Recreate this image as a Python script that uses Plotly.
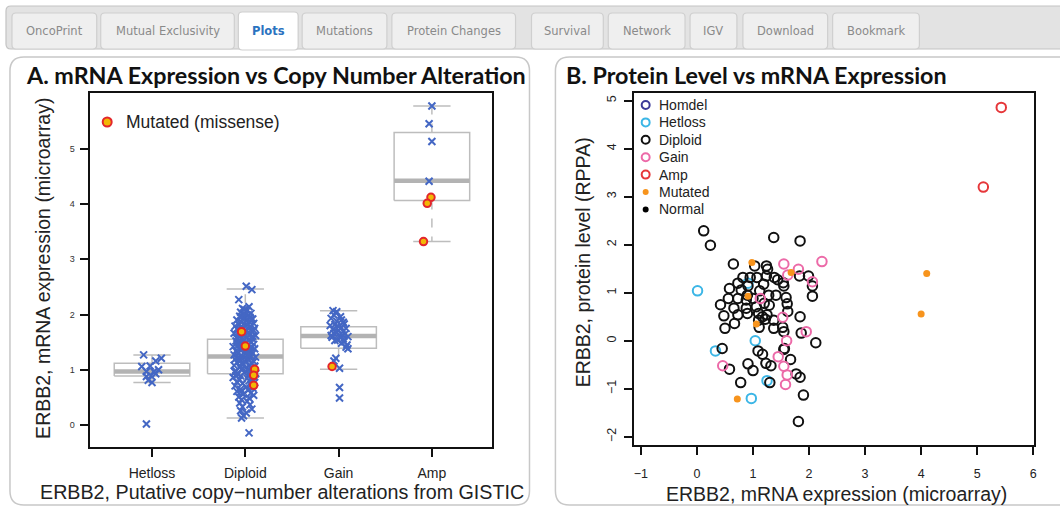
import plotly.graph_objects as go

# ---------------- data: panel A ----------------
categories = ["Hetloss", "Diploid", "Gain", "Amp"]
box_q1 = [0.89, 0.93, 1.39, 4.06]
box_median = [0.97, 1.24, 1.61, 4.42]
box_q3 = [1.12, 1.555, 1.78, 5.29]
box_lower = [0.77, 0.13, 1.01, 3.32]
box_upper = [1.27, 2.46, 2.07, 5.77]

hetloss_y = [1.27, 1.16, 1.21, 1.07, 1.06, 0.97, 0.97, 1.00, 0.89, 0.93, 0.88, 0.77, 0.81, 0.02]
hetloss_dx = [-0.09, 0.04, 0.10, -0.02, -0.11, -0.06, 0.02, 0.07, -0.01, 0.04, -0.06, 0.00, -0.04, -0.06]

diploid_y = [
    2.51, 2.45, 2.27, 2.14, 2.11, 2.07, 2.04, 2.02, 2.09, 1.99,
    1.97, 1.95, 1.94, 1.92, 1.90, 1.89, 1.87, 1.86, 1.84, 1.82,
    1.81, 1.79, 1.78, 1.76, 1.75, 1.73, 1.72, 1.70, 1.69, 1.67,
    1.66, 1.64, 1.63, 1.62, 1.60, 1.59, 1.57, 1.56, 1.55, 1.53,
    1.52, 1.50, 1.49, 1.48, 1.46, 1.45, 1.44, 1.42, 1.41, 1.40,
    1.38, 1.37, 1.36, 1.34, 1.33, 1.32, 1.30, 1.29, 1.28, 1.27,
    1.25, 1.24, 1.23, 1.22, 1.20, 1.19, 1.18, 1.17, 1.15, 1.14,
    1.13, 1.12, 1.10, 1.09, 1.08, 1.06, 1.05, 1.04, 1.02, 1.01,
    0.99, 0.98, 0.97, 0.95, 0.94, 0.92, 0.91, 0.89, 0.88, 0.86,
    0.85, 0.83, 0.82, 0.80, 0.78, 0.77, 0.75, 0.73, 0.71, 0.69,
    0.67, 0.65, 0.63, 0.61, 0.58, 0.56, 0.54, 0.51, 0.49, 0.46,
    0.43, 0.40, 0.37, 0.33, 0.29, 0.26, 0.22, 0.17, 0.13, -0.14,
    1.88, 1.74, 1.61, 1.47, 1.35, 1.21, 1.07, 0.96, 1.83, 1.58,
    1.43, 1.26, 1.11, 1.00, 0.90, 1.71, 1.54, 1.39, 1.16, 0.93,
    2.00, 1.92, 1.65, 1.31, 1.03, 0.79, 0.60, 1.96, 1.77, 1.51,
]
diploid_dx = [
    0.01, 0.07, -0.07, 0.04, -0.03, 0.02, -0.05, 0.06, -0.01, 0.03,
    -0.06, 0.05, -0.02, 0.08, -0.09, 0.01, 0.04, -0.04, 0.09, -0.07,
    0.02, -0.11, 0.06, -0.03, 0.10, -0.08, 0.00, 0.07, -0.05, 0.03,
    -0.12, 0.05, -0.01, 0.11, -0.06, 0.02, -0.09, 0.08, -0.03, 0.04,
    -0.10, 0.06, 0.00, -0.07, 0.09, -0.02, 0.03, -0.13, 0.07, -0.04,
    0.10, -0.06, 0.01, -0.10, 0.05, -0.01, 0.08, -0.08, 0.03, -0.12,
    0.06, -0.03, 0.11, -0.07, 0.02, -0.11, 0.04, -0.05, 0.09, 0.00,
    -0.09, 0.07, -0.02, 0.05, -0.12, 0.10, -0.06, 0.01, 0.08, -0.04,
    0.03, -0.10, 0.06, -0.01, 0.11, -0.08, 0.04, -0.05, 0.09, -0.13,
    0.02, 0.07, -0.06, 0.04, -0.09, 0.10, -0.03, 0.06, -0.11, 0.01,
    0.08, -0.05, 0.03, -0.09, 0.06, -0.02, 0.09, -0.07, 0.04, -0.04,
    0.02, -0.06, 0.05, -0.03, 0.07, -0.05, 0.01, -0.02, -0.04, 0.04,
    0.04, -0.09, 0.08, -0.05, 0.02, -0.07, 0.10, -0.11, -0.02, 0.06,
    -0.08, 0.03, -0.04, 0.07, -0.10, 0.09, -0.01, 0.05, -0.06, 0.11,
    0.00, 0.06, -0.07, 0.02, -0.03, 0.08, -0.05, -0.04, 0.05, -0.08,
]

gain_y = [2.07, 2.03, 2.05, 1.99, 1.96, 1.93, 1.90, 1.88, 1.86, 1.83,
          1.82, 1.80, 1.78, 1.76, 1.75, 1.73, 1.71, 1.70, 1.68, 1.66,
          1.65, 1.63, 1.62, 1.60, 1.59, 1.58, 1.56, 1.54, 1.53, 1.51,
          1.48, 1.45, 1.41, 1.38, 1.21, 1.16, 1.03, 0.68, 0.49]
gain_dx = [-0.06, -0.03, -0.02, -0.05, 0.02, -0.08, 0.03, -0.02, 0.05, 0.06,
           -0.04, -0.09, 0.00, 0.03, 0.08, -0.06, 0.00, 0.05, -0.02, -0.05,
           0.07, 0.04, -0.08, 0.10, -0.07, 0.02, 0.05, -0.01, -0.04, 0.06,
           0.03, 0.09, 0.08, 0.10, -0.03, -0.05, 0.01, 0.01, 0.01]

amp_y = [5.77, 5.45, 5.13, 4.41]
amp_dx = [0.00, -0.03, 0.00, -0.03]

mutated_cat = [2, 2, 2, 2, 2, 3, 4, 4, 4]
mutated_dx = [-0.04, 0.00, 0.10, 0.09, 0.09, -0.07, -0.01, -0.05, -0.09]
mutated_y = [1.69, 1.43, 1.01, 0.90, 0.72, 1.06, 4.12, 4.01, 3.32]

# ---------------- data: panel B ----------------
hetloss_bx = [0.01, 0.91, 1.04, 0.33, 1.25, 0.97]
hetloss_by = [1.04, 1.20, 0.00, -0.21, -0.83, -1.20]
diploid_bx = [0.12, 0.24, 1.37, 1.84, 0.65, 1.03, 1.24, 1.26, 0.82, 0.95, 1.07, 1.24, 1.38, 1.44,
              1.54, 1.55, 1.83, 1.99, 2.06, 2.06, 0.73, 0.58, 0.56, 0.73, 0.88, 1.00, 1.12, 1.28,
              1.41, 1.59, 1.61, 1.62, 0.42, 0.48, 0.50, 0.66, 0.67, 0.73, 0.88, 0.90, 1.06, 1.10,
              1.17, 1.25, 1.22, 1.37, 1.37, 1.11, 1.53, 1.55, 1.84, 1.86, 2.12, 0.45, 1.09, 1.17,
              1.56, 1.67, 0.91, 1.00, 1.23, 1.32, 0.58, 0.78, 1.30, 1.77, 1.84, 1.90, 1.81, 0.90,
              0.79, 1.20, 1.29, 1.10, 0.91, 1.19, 1.55]
diploid_by = [2.29, 1.99, 2.15, 2.08, 1.60, 1.56, 1.56, 1.49, 1.32, 1.32, 1.32, 1.35, 1.32, 1.27,
              1.21, 1.14, 1.35, 1.35, 1.14, 0.93, 1.20, 1.09, 0.88, 0.88, 0.85, 0.88, 1.04, 0.95,
              0.95, 0.90, 0.77, 0.61, 0.75, 0.52, 0.26, 0.68, 0.36, 0.54, 0.68, 0.57, 0.71, 0.57,
              0.50, 0.54, 0.45, 0.43, 0.26, 0.28, 0.28, 0.19, 0.50, 0.16, -0.04, -0.16, -0.21, -0.28,
              -0.16, -0.39, -0.48, -0.62, -0.47, -0.52, -0.59, -0.87, -0.87, -0.69, -0.76, -1.13, -1.68, 0.95,
              1.06, 0.78, 0.74, 0.43, 1.14, 1.18, -0.18]
gain_bx = [1.55, 1.81, 2.23, 1.62, 2.06, 1.13, 1.53, 1.95, 1.60, 1.45, 1.55, 1.61, 1.58, 0.46]
gain_by = [1.60, 1.49, 1.65, 1.37, 1.23, 0.88, 0.49, 0.19, 0.00, -0.33, -0.53, -0.71, -0.91, -0.52]
amp_bx = [5.43, 5.11]
amp_by = [4.86, 3.20]
mutated_bx = [0.98, 1.68, 0.91, 1.06, 0.72, 4.10, 4.00]
mutated_by = [1.63, 1.42, 0.93, 0.35, -1.21, 1.40, 0.56]

legend_b_labels = ["Homdel", "Hetloss", "Diploid", "Gain", "Amp", "Mutated", "Normal"]

tab_labels = ["OncoPrint", "Mutual Exclusivity", "Plots", "Mutations", "Protein Changes",
              "Survival", "Network", "IGV", "Download", "Bookmark"]

# ---------------- styles ----------------
W, H = 1060, 508
BLUE_X = "#4467c4"
MUT_FILL = "#f2b705"
MUT_LINE = "#e3262b"
BOX_GRAY = "#bdbdbd"
C_HOMDEL = "#3b3a98"
C_HETLOSS = "#3cb6e6"
C_DIPLOID = "#111111"
C_GAIN = "#ec6aa8"
C_AMP = "#e6373a"
C_MUT = "#f7941d"
C_NORMAL = "#000000"
SANS = "Liberation Sans, Arial, sans-serif"
TITLE_FONT = "Lato, Open Sans, sans-serif"


def fx(x):
    return x / W


def fy(y):
    return 1 - y / H


def P(x, y):
    return f"{fx(x):.5f},{fy(y):.5f}"


def rounded_rect(x0, y0, x1, y1, r):
    return (f"M {P(x0 + r, y0)} L {P(x1 - r, y0)} Q {P(x1, y0)} {P(x1, y0 + r)} "
            f"L {P(x1, y1 - r)} Q {P(x1, y1)} {P(x1 - r, y1)} L {P(x0 + r, y1)} "
            f"Q {P(x0, y1)} {P(x0, y1 - r)} L {P(x0, y0 + r)} Q {P(x0, y0)} {P(x0 + r, y0)} Z")


fig = go.Figure()

# ---------------- panel A: boxes ----------------
BW = 0.405
CW = 0.2
bx, by, mx, my, wx, wy, cx, cy = [], [], [], [], [], [], [], []
for i in range(len(categories)):
    c = i + 1
    bx += [c - BW, c + BW, c + BW, c - BW, c - BW, None]
    by += [box_q1[i], box_q1[i], box_q3[i], box_q3[i], box_q1[i], None]
    mx += [c - BW, c + BW, None]
    my += [box_median[i], box_median[i], None]
    wx += [c, c, None, c, c, None]
    wy += [box_q3[i], box_upper[i], None, box_q1[i], box_lower[i], None]
    cx += [c - CW, c + CW, None, c - CW, c + CW, None]
    cy += [box_upper[i], box_upper[i], None, box_lower[i], box_lower[i], None]

fig.add_trace(go.Scatter(x=wx, y=wy, mode="lines", line=dict(color=BOX_GRAY, width=1.5, dash="dash"),
                         xaxis="x", yaxis="y", hoverinfo="skip"))
fig.add_trace(go.Scatter(x=cx, y=cy, mode="lines", line=dict(color=BOX_GRAY, width=1.5),
                         xaxis="x", yaxis="y", hoverinfo="skip"))
fig.add_trace(go.Scatter(x=bx, y=by, mode="lines", line=dict(color=BOX_GRAY, width=1.5),
                         xaxis="x", yaxis="y", hoverinfo="skip"))
fig.add_trace(go.Scatter(x=mx, y=my, mode="lines", line=dict(color="#b3b3b3", width=4.5),
                         xaxis="x", yaxis="y", hoverinfo="skip"))

# ---------------- panel A: points ----------------
groups = [(1, hetloss_y, hetloss_dx), (2, diploid_y, diploid_dx), (3, gain_y, gain_dx), (4, amp_y, amp_dx)]
for c, ys, dxs in groups:
    fig.add_trace(go.Scatter(
        x=[c + d for d in dxs], y=ys, mode="markers", xaxis="x", yaxis="y",
        marker=dict(symbol="x-thin", size=7, line=dict(color=BLUE_X, width=2)),
        hoverinfo="skip"))

fig.add_trace(go.Scatter(
    x=[c + d for c, d in zip(mutated_cat, mutated_dx)], y=mutated_y, mode="markers",
    xaxis="x", yaxis="y",
    marker=dict(symbol="circle", size=7.5, color=MUT_FILL, line=dict(color=MUT_LINE, width=2)),
    hoverinfo="skip"))

# ---------------- panel B ----------------
b_groups = [
    (hetloss_bx, hetloss_by, C_HETLOSS),
    (diploid_bx, diploid_by, C_DIPLOID),
    (gain_bx, gain_by, C_GAIN),
    (amp_bx, amp_by, C_AMP),
]
for xs, ys, col in b_groups:
    fig.add_trace(go.Scatter(
        x=xs, y=ys, mode="markers", xaxis="x2", yaxis="y2",
        marker=dict(symbol="circle-open", size=9.5, color=col, line=dict(color=col, width=2)),
        hoverinfo="skip"))
fig.add_trace(go.Scatter(
    x=mutated_bx, y=mutated_by, mode="markers", xaxis="x2", yaxis="y2",
    marker=dict(symbol="circle", size=7, color=C_MUT, line=dict(width=0)),
    hoverinfo="skip"))

# ---------------- shapes: tab bar & panels ----------------
shapes = []
shapes.append(dict(type="path", xref="paper", yref="paper", path=rounded_rect(6, 6, 1075, 49, 5),
                   fillcolor="#e3e3e3", line=dict(color="#c4c4c4", width=1.2), layer="below"))
tab_pos = [(12, 97), (101, 235), (239, 299), (303, 388), (393, 517), (533, 605), (610, 687),
           (692, 739), (745, 830), (835, 922)]
annotations = []
for lbl, (x0, x1) in zip(tab_labels, tab_pos):
    active = lbl == "Plots"
    shapes.append(dict(type="path", xref="paper", yref="paper",
                       path=rounded_rect(x0, 13 if not active else 12, x1, 49 if not active else 50, 4),
                       fillcolor="#ffffff" if active else "#efefef",
                       line=dict(color="#cfcfcf", width=1.2), layer="below"))
    annotations.append(dict(
        x=fx((x0 + x1) / 2), y=fy(31), xref="paper", yref="paper", showarrow=False,
        text=f"<b>{lbl}</b>" if active else lbl, xanchor="center", yanchor="middle",
        font=dict(family="DejaVu Sans, Verdana, sans-serif", size=11.5,
                  color="#2b73c0" if active else "#8a8a8a")))

shapes.append(dict(type="path", xref="paper", yref="paper", path=rounded_rect(10, 57, 531, 505, 14),
                   fillcolor="rgba(0,0,0,0)", line=dict(color="#c8c8c8", width=1.5), layer="below"))
shapes.append(dict(type="path", xref="paper", yref="paper", path=rounded_rect(557, 57, 1075, 505, 14),
                   fillcolor="rgba(0,0,0,0)", line=dict(color="#c8c8c8", width=1.5), layer="below"))

# panel B legend markers
leg_colors = [C_HOMDEL, C_HETLOSS, C_DIPLOID, C_GAIN, C_AMP, C_MUT, C_NORMAL]
leg_y0 = 105
leg_dy = 17.4
for k, (lbl, col) in enumerate(zip(legend_b_labels, leg_colors)):
    yy = leg_y0 + k * leg_dy
    if lbl in ("Mutated", "Normal"):
        r = 3
        shapes.append(dict(type="circle", xref="paper", yref="paper",
                           x0=fx(647.5 - r), x1=fx(647.5 + r), y0=fy(yy + r), y1=fy(yy - r),
                           fillcolor=col, line=dict(width=0)))
    else:
        r = 4
        shapes.append(dict(type="circle", xref="paper", yref="paper",
                           x0=fx(647.5 - r), x1=fx(647.5 + r), y0=fy(yy + r), y1=fy(yy - r),
                           fillcolor="rgba(0,0,0,0)", line=dict(color=col, width=2)))
    annotations.append(dict(x=fx(659), y=fy(yy), xref="paper", yref="paper", showarrow=False,
                            text=lbl, xanchor="left", yanchor="middle",
                            font=dict(family=SANS, size=14, color="#222222")))

# panel A legend
shapes.append(dict(type="circle", xref="paper", yref="paper",
                   x0=fx(107.5 - 4.5), x1=fx(107.5 + 4.5), y0=fy(122 + 4.5), y1=fy(122 - 4.5),
                   fillcolor=MUT_FILL, line=dict(color=MUT_LINE, width=2)))
annotations.append(dict(x=fx(124), y=fy(122), xref="paper", yref="paper", showarrow=False,
                        text="Mutated (missense)", xanchor="left", yanchor="middle",
                        font=dict(family=SANS, size=17.5, color="#222222")))

# titles
annotations.append(dict(x=fx(24), y=fy(75), xref="paper", yref="paper", showarrow=False,
                        text="<b>A. mRNA Expression vs Copy Number Alteration</b>",
                        xanchor="left", yanchor="middle",
                        font=dict(family=TITLE_FONT, size=23.3, color="#111111")))
annotations.append(dict(x=fx(566), y=fy(75), xref="paper", yref="paper", showarrow=False,
                        text="<b>B. Protein Level vs mRNA Expression</b>",
                        xanchor="left", yanchor="middle",
                        font=dict(family=TITLE_FONT, size=23.3, color="#111111")))

# axis titles
annotations.append(dict(x=fx(283), y=fy(492), xref="paper", yref="paper", showarrow=False,
                        text="ERBB2, Putative copy\u2212number alterations from GISTIC",
                        xanchor="center", yanchor="middle", font=dict(family=SANS, size=19.7, color="#222222")))
annotations.append(dict(x=fx(43), y=fy(268), xref="paper", yref="paper", showarrow=False,
                        text="ERBB2, mRNA expression (microarray)", textangle=-90,
                        xanchor="center", yanchor="middle", font=dict(family=SANS, size=19.5, color="#222222")))
annotations.append(dict(x=fx(839), y=fy(494), xref="paper", yref="paper", showarrow=False,
                        text="ERBB2, mRNA expression (microarray)",
                        xanchor="center", yanchor="middle", font=dict(family=SANS, size=19.5, color="#222222")))
annotations.append(dict(x=fx(585), y=fy(262), xref="paper", yref="paper", showarrow=False,
                        text="ERBB2, protein level (RPPA)", textangle=-90,
                        xanchor="center", yanchor="middle", font=dict(family=SANS, size=19.5, color="#222222")))

axis_common = dict(showline=True, mirror=True, linecolor="#111111", linewidth=2, ticks="outside",
                   ticklen=8, tickwidth=1.5, tickcolor="#111111", showgrid=False, zeroline=False)

fig.update_layout(
    width=W, height=H, margin=dict(l=0, r=0, t=0, b=0),
    paper_bgcolor="white", plot_bgcolor="white", showlegend=False,
    xaxis=dict(domain=[fx(90.7), fx(493)], range=[0.34, 4.64], tickvals=[1, 2, 3, 4],
               ticktext=categories, tickfont=dict(family=SANS, size=14, color="#222222"),
               ticklabelstandoff=4, anchor="y", **axis_common),
    yaxis=dict(domain=[fy(446.7), fy(93.3)], range=[-0.39, 6.0], tickvals=[0, 1, 2, 3, 4, 5],
               tickfont=dict(family=SANS, size=9, color="#333333"), ticklabelstandoff=4,
               anchor="x", **axis_common),
    xaxis2=dict(domain=[fx(636), fx(1036.7)], range=[-1.12, 6.01], tickvals=[-1, 0, 1, 2, 3, 4, 5, 6],
                ticktext=["\u22121", "0", "1", "2", "3", "4", "5", "6"],
                tickfont=dict(family=SANS, size=12.5, color="#222222"), ticklabelstandoff=8,
                anchor="y2", **axis_common),
    yaxis2=dict(domain=[fy(445), fy(93)], range=[-2.17, 5.16], tickvals=[-2, -1, 0, 1, 2, 3, 4, 5],
                ticktext=["\u22122", "\u22121", "0", "1", "2", "3", "4", "5"], tickangle=-90,
                tickfont=dict(family=SANS, size=12.5, color="#222222"), ticklabelstandoff=3,
                anchor="x2", **axis_common),
    shapes=shapes,
    annotations=annotations,
)

fig.write_html("out.html", config={"displayModeBar": False})
